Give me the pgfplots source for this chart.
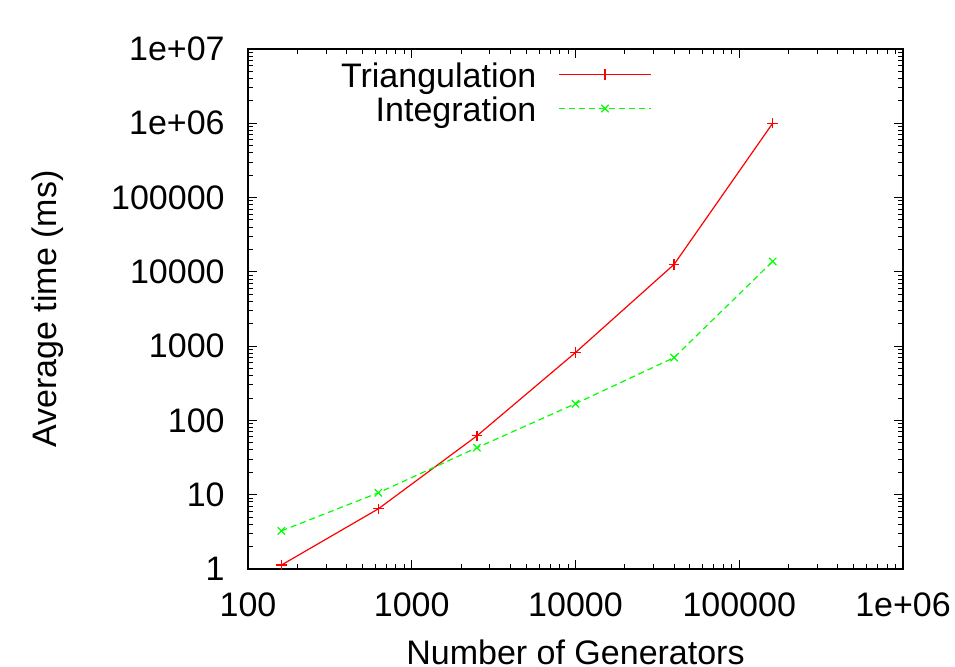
\documentclass[border=0pt]{standalone}
\usepackage{fontspec}
\setmainfont{Liberation Sans}
\usepackage{pgfplots}
\pgfplotsset{compat=1.18}
\newcommand{\gfont}{\fontsize{17}{20}\selectfont}

\begin{document}
\begin{tikzpicture}
\begin{axis}[
  at={(0,0)}, anchor=south west,
  scale only axis,
  width=327.5pt, height=260pt,
  xmode=log, ymode=log,
  xmin=100, xmax=1e6, ymin=1, ymax=1e7,
  xtick={100,1000,10000,100000,1000000},
  xticklabels={100,1000,10000,100000,1e+06},
  ytick={1,10,100,1000,10000,100000,1000000,10000000},
  yticklabels={1,10,100,1000,10000,100000,1e+06,1e+07},
  /pgf/number format/assume math mode=true,
  tick align=inside,
  major tick length=4.5pt, minor tick length=2.5pt,
  axis line style={line width=0.6pt},
  every tick/.style={black, line width=0.5pt},
  xticklabel style={font=\gfont, anchor=north, inner sep=0pt, yshift=-11.5pt},
  yticklabel style={font=\gfont, anchor=east, inner sep=0pt, xshift=-11.5pt},
  xlabel={Number of Generators},
  ylabel={Average time (ms)},
  xlabel style={font=\gfont, at={(axis description cs:0.5,-0.183)}, anchor=base, inner sep=0pt},
  ylabel style={font=\gfont, at={(axis description cs:-0.2931,0.5)}, anchor=base, inner sep=0pt},
  legend plot pos=right,
  legend cell align=right,
  legend image code/.code={\draw[mark repeat=2,mark phase=2,#1] plot coordinates {(0pt,0.3em)(23pt,0.3em)(46pt,0.3em)};},
  legend style={draw=none, fill=none, font=\gfont, at={(0.6168,0.973)}, anchor=north east,
    inner sep=0pt, column sep=11pt,
    nodes={inner sep=0pt, text height=12pt, text depth=5pt}},
]
\addplot[red, line width=0.6pt, mark=+, mark size=2.6pt, mark options={solid}] coordinates {
  (160,1.13) (625,6.45) (2500,62) (10000,820) (40000,12600) (160000,1.0e6)
};
\addlegendentry{Triangulation}
\addplot[green, line width=0.6pt, dash pattern=on 3pt off 2pt, mark=x, mark size=2.6pt, mark options={solid}] coordinates {
  (160,3.26) (625,10.6) (2500,42.9) (10000,168) (40000,701) (160000,13800)
};
\addlegendentry{Integration}
\end{axis}
\pgfresetboundingbox
\path (-124pt,-49pt) rectangle (353.5pt,284.5pt);
\end{tikzpicture}
\end{document}
